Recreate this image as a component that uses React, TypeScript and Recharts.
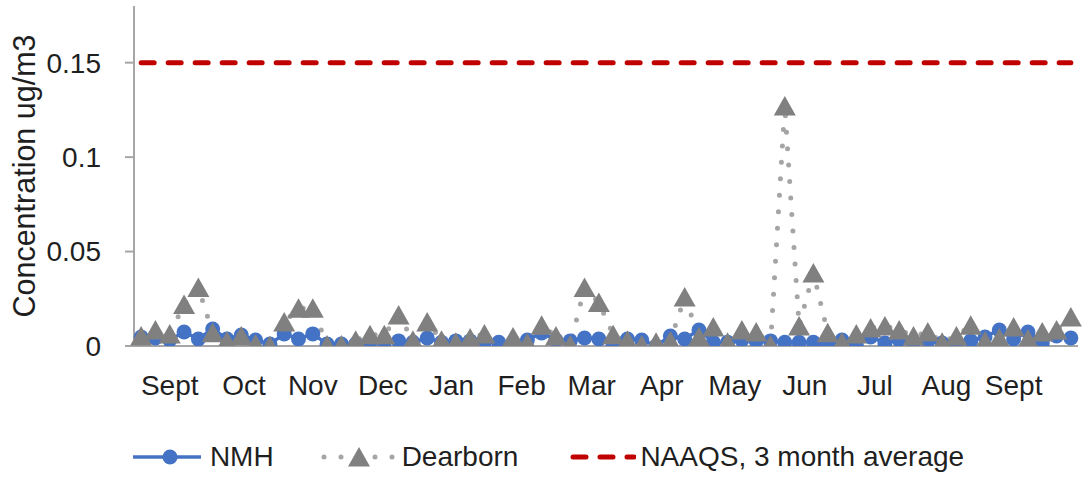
import React from "react";
import { LineChart, Line, XAxis, YAxis, Legend } from "recharts";

// sampling every ~6 days, Sept to Sept
const months = ["Sept", "Oct", "Nov", "Dec", "Jan", "Feb", "Mar", "Apr", "May", "Jun", "Jul", "Aug", "Sept"];
const monthTickPos = [2.0, 7.2, 12.0, 16.9, 21.7, 26.6, 31.5, 36.4, 41.5, 46.4, 51.3, 56.3, 61.0];

const nmh = [
  0.0048, 0.0042, 0.0032, 0.0074, 0.0037, 0.009, 0.0037, 0.0058, 0.0032, 0.001,
  0.0064, 0.0037, 0.0064, 0.001, 0.001, 0.001, 0.002, 0.002, 0.0027, 0.002,
  0.0042, 0.002, 0.0027, 0.0027, 0.002, 0.002, 0.002, 0.0032, 0.0069, 0.0032,
  0.0027, 0.0042, 0.0037, 0.0005, 0.0037, 0.0032, 0.0, 0.0053, 0.0037, 0.0085,
  0.002, 0.002, 0.0032, 0.0027, 0.0027, 0.002, 0.002, 0.002, 0.0005, 0.0032,
  0.0005, 0.0048, 0.0016, 0.0032, 0.002, 0.0027, 0.0016, 0.002, 0.0027, 0.0048,
  0.0085, 0.0037, 0.0074, 0.0016, 0.0053, 0.0042,
];

const dearborn = [
  0.0053, 0.0085, 0.0064, 0.022, 0.031, 0.007, 0.0027, 0.0053, 0.001, 0.0002,
  0.0127, 0.02, 0.02, 0.0005, 0.0005, 0.003, 0.006, 0.006, 0.0164, 0.003,
  0.0127, 0.003, 0.002, 0.0042, 0.0064, null, 0.0048, 0.0016, 0.011, 0.0053,
  0.0005, 0.031, 0.023, 0.006, 0.003, 0.0005, 0.002, 0.0027, 0.026, 0.0048,
  0.01, 0.002, 0.0085, 0.0074, 0.0005, 0.127, 0.0106, 0.0387, 0.007, 0.002,
  0.0064, 0.0095, 0.0106, 0.0085, 0.0053, 0.0074, 0.002, 0.0053, 0.011, 0.0027,
  0.0042, 0.01, 0.0037, 0.0074, 0.0085, 0.0154,
];

const NAAQS = 0.15;
const yTicks = [0, 0.05, 0.1, 0.15];

const data = nmh.map((v, i) => ({
  idx: i,
  nmh: v,
  dearborn: dearborn[i],
  naaqs: NAAQS,
}));

const FONT = "'Liberation Sans', Arial, sans-serif";
const TEXT = "#1f1f1f";
const AXIS = "#A6A6A6";
const BLUE = "#4472C4";
const GREY_LINE = "#A5A5A5";
const GREY_MARK = "#808080";
const RED = "#C00000";

const TriangleDot = (props: any) => {
  const { cx, cy, index } = props;
  if (cx == null || cy == null) return <g key={`t${index}`} />;
  return (
    <polygon
      key={`t${index}`}
      points={`${cx},${cy - 10} ${cx - 11},${cy + 9.5} ${cx + 11},${cy + 9.5}`}
      fill={GREY_MARK}
    />
  );
};

const YLabel = (props: any) => {
  const { viewBox } = props;
  const cy = viewBox.y + viewBox.height / 2;
  const x = 24;
  return (
    <text
      x={x}
      y={cy}
      transform={`rotate(-90, ${x}, ${cy})`}
      textAnchor="middle"
      dominantBaseline="central"
      fontFamily={FONT}
      fontSize={30.5}
      fill={TEXT}
    >
      Concentration ug/m3
    </text>
  );
};

const renderLegend = () => (
  <div
    style={{
      display: "flex",
      justifyContent: "center",
      alignItems: "center",
      height: 61,
      paddingTop: 20,
      paddingLeft: 14,
      boxSizing: "border-box",
      fontFamily: FONT,
      fontSize: 28,
      color: TEXT,
    }}
  >
    <svg width={68} height={24} style={{ marginRight: 9 }}>
      <line x1={0} y1={12} x2={68} y2={12} stroke={BLUE} strokeWidth={3.5} />
      <circle cx={37} cy={12} r={7.5} fill={BLUE} />
    </svg>
    <span style={{ marginRight: 47 }}>NMH</span>
    <svg width={74} height={24} style={{ marginRight: 7 }}>
      <line
        x1={3}
        y1={12}
        x2={74}
        y2={12}
        stroke={GREY_LINE}
        strokeWidth={5}
        strokeDasharray="0 17"
        strokeLinecap="round"
      />
      <polygon points="38,2 27,21.5 49,21.5" fill={GREY_MARK} />
    </svg>
    <span style={{ marginRight: 52 }}>Dearborn</span>
    <svg width={66} height={24} style={{ marginRight: 4 }}>
      <line
        x1={3}
        y1={12}
        x2={64}
        y2={12}
        stroke={RED}
        strokeWidth={5}
        strokeDasharray="13 14"
        strokeLinecap="round"
      />
    </svg>
    <span>NAAQS, 3 month average</span>
  </div>
);

export default function App() {
  return (
    <div style={{ position: "absolute", left: 0, top: 0, background: "#fff" }}>
      <LineChart
        width={1083}
        height={477}
        data={data}
        margin={{ top: 6, right: 5, left: 0, bottom: 0 }}
      >
        <XAxis
          dataKey="idx"
          type="number"
          domain={[-0.5, 65.5]}
          ticks={monthTickPos}
          interval={0}
          tickFormatter={(v: number) => months[monthTickPos.indexOf(v)] ?? ""}
          tickLine={false}
          tickSize={0}
          tickMargin={29}
          height={70}
          axisLine={{ stroke: AXIS, strokeWidth: 2 }}
          tick={{ fontFamily: FONT, fontSize: 28, fill: TEXT }}
        />
        <YAxis
          width={134}
          domain={[0, 0.18]}
          ticks={yTicks}
          interval={0}
          allowDataOverflow
          tickSize={9}
          tickMargin={24}
          tickLine={{ stroke: AXIS, strokeWidth: 2 }}
          axisLine={{ stroke: AXIS, strokeWidth: 2 }}
          tick={{ fontFamily: FONT, fontSize: 28, fill: TEXT }}
          tickFormatter={(v: number) => String(v)}
          label={<YLabel />}
        />
        <Legend
          verticalAlign="bottom"
          content={renderLegend}
          wrapperStyle={{ height: 61, left: 0, width: 1083 }}
        />
        <Line
          dataKey="nmh"
          name="NMH"
          stroke={BLUE}
          strokeWidth={3.5}
          dot={{ r: 7.5, fill: BLUE, stroke: BLUE, strokeWidth: 0 }}
          isAnimationActive={false}
        />
        <Line
          dataKey="dearborn"
          name="Dearborn"
          stroke={GREY_LINE}
          strokeWidth={5}
          strokeDasharray="0 16.5"
          strokeLinecap="round"
          dot={<TriangleDot />}
          isAnimationActive={false}
        />
        <Line
          dataKey="naaqs"
          name="NAAQS, 3 month average"
          stroke={RED}
          strokeWidth={5}
          strokeDasharray="13 14"
          strokeLinecap="round"
          dot={false}
          isAnimationActive={false}
        />
      </LineChart>
    </div>
  );
}
